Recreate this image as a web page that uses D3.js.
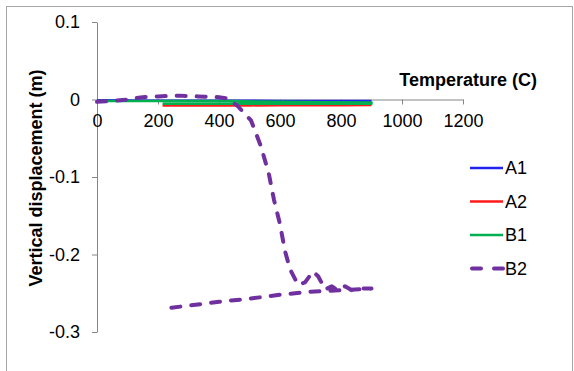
<!DOCTYPE html>
<html>
<head>
<meta charset="utf-8">
<script src="https://cdn.jsdelivr.net/npm/d3@7"></script>
<style>
  html, body { margin: 0; padding: 0; background: #fff; }
  svg { display: block; font-family: "Liberation Sans", Arial, sans-serif; }
</style>
</head>
<body>
<div id="chart"></div>
<script>
// data: [temperature (C), vertical displacement (m)]
const a1 = [[0, -0.001], [100, -0.0012], [200, -0.0015], [300, -0.0015], [400, -0.0015],
  [500, -0.0017], [600, -0.0018], [700, -0.0018], [800, -0.0018], [900, -0.0018]];
const a2 = [[215, -0.0078], [300, -0.0078], [400, -0.0077], [500, -0.0076], [600, -0.0075],
  [700, -0.0074], [800, -0.0073], [900, -0.0072]];
const b1 = [[0, -0.002], [100, -0.002], [215, -0.002], [300, -0.002], [430, -0.002],
  [600, -0.003], [750, -0.0035], [900, -0.004],
  [900, -0.0055], [750, -0.0055], [600, -0.0055], [430, -0.0055], [300, -0.0055], [215, -0.0055]];
const b2 = [[0, -0.003], [50, -0.002], [100, 0], [150, 0.003], [200, 0.004], [270, 0.005],
  [330, 0.004], [400, 0.003], [430, 0.001], [460, -0.008], [505, -0.027], [538, -0.061],
  [564, -0.097], [580, -0.129], [600, -0.161], [616, -0.195], [633, -0.219], [659, -0.239],
  [682, -0.236], [708, -0.222], [725, -0.228], [748, -0.245], [770, -0.241], [787, -0.246],
  [813, -0.241], [836, -0.246], [862, -0.244], [900, -0.244],
  [800, -0.246], [700, -0.248], [600, -0.252], [500, -0.257], [400, -0.261], [300, -0.266], [215, -0.270]];

const seriesNames = ["A1", "A2", "B1", "B2"];
const seriesData = [a1, a2, b1, b2];
const seriesColors = ["#2323f0", "#ff1a1a", "#00b050", "#7030a0"];

const xTicks = [0, 200, 400, 600, 800, 1000, 1200];
const yTicks = [0.1, 0, -0.1, -0.2, -0.3];

const W = 574, H = 371;
const svg = d3.select("#chart").append("svg").attr("width", W).attr("height", H);

// chart border
svg.append("rect")
  .attr("x", 6.5).attr("y", 6.5).attr("width", 566).attr("height", 380)
  .attr("fill", "none").attr("stroke", "#a6a6a6");

const x = d3.scaleLinear().domain([0, 1200]).range([97, 463]);
const y = d3.scaleLinear().domain([-0.3, 0.1]).range([332, 22]);

// y axis
const yAxis = svg.append("g")
  .attr("transform", `translate(${x(0)},0)`)
  .call(d3.axisLeft(y).tickValues(yTicks).tickSize(5).tickSizeOuter(0).tickPadding(12)
    .tickFormat(d => d === 0 ? "0" : d3.format(".1f")(d).replace("−", "-")));

// x axis, crossing at zero
const xAxis = svg.append("g")
  .attr("transform", `translate(0,${y(0)})`)
  .call(d3.axisBottom(x).tickValues(xTicks).tickSize(5).tickSizeOuter(0).tickPadding(10)
    .tickFormat(d3.format("d")));

[xAxis, yAxis].forEach(g => {
  g.selectAll("path, line").attr("stroke", "#868686");
  g.selectAll("text").attr("fill", "#000").style("font-size", "18px")
    .style("font-family", '"Liberation Sans", Arial, sans-serif');
});

// axis titles
svg.append("text")
  .attr("x", 537).attr("y", 86)
  .attr("text-anchor", "end")
  .style("font-size", "18px").style("font-weight", "bold")
  .text("Temperature (C)");

svg.append("text")
  .attr("transform", "translate(42,178) rotate(-90)")
  .attr("text-anchor", "middle")
  .style("font-size", "18px").style("font-weight", "bold")
  .text("Vertical displacement (m)");

const line = d3.line().x(d => x(d[0])).y(d => y(d[1]));

seriesData.forEach((data, i) => {
  const p = svg.append("path")
    .datum(data)
    .attr("d", line)
    .attr("fill", "none")
    .attr("stroke", seriesColors[i])
    .attr("stroke-linejoin", "round");
  if (seriesNames[i] === "B2") {
    p.attr("stroke-width", 4).attr("stroke-linecap", "round").attr("stroke-dasharray", "9,11");
  } else {
    p.attr("stroke-width", 2.5);
  }
});

// legend
const legend = svg.append("g");
seriesNames.forEach((name, i) => {
  const ly = 168 + i * 33.5;
  const l = legend.append("line")
    .attr("x1", 470).attr("x2", 503).attr("y1", ly).attr("y2", ly)
    .attr("stroke", seriesColors[i]);
  if (name === "B2") {
    l.attr("x1", 472).attr("stroke-width", 4).attr("stroke-linecap", "round").attr("stroke-dasharray", "9,13");
  } else {
    l.attr("stroke-width", 2.5);
  }
  legend.append("text")
    .attr("x", 505).attr("y", ly)
    .attr("dy", "0.35em")
    .style("font-size", "18px")
    .text(name);
});
</script>
</body>
</html>
